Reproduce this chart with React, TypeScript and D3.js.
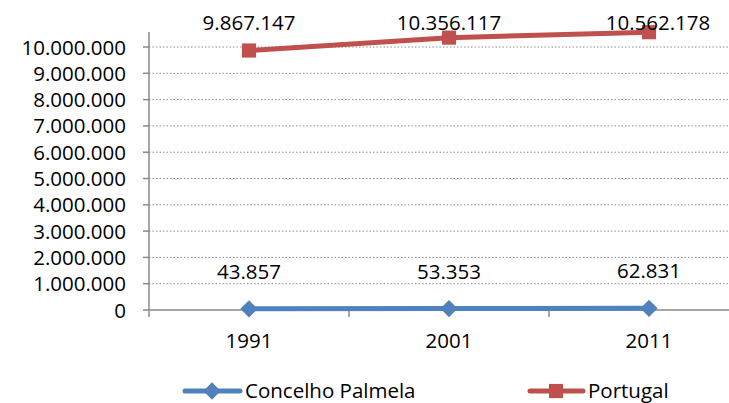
import React from "react";
import * as d3 from "d3";

const years = ["1991", "2001", "2011"];
const palmela = [43857, 53353, 62831];
const portugal = [9867147, 10356117, 10562178];
const yTicks = [0, 1000000, 2000000, 3000000, 4000000, 5000000, 6000000, 7000000, 8000000, 9000000, 10000000];
const seriesNames = ["Concelho Palmela", "Portugal"];

const W = 729;
const H = 403;
const FONT = "'Open Sans', sans-serif";
const FS = 20.5;
const BLUE = "#4F81BD";
const RED = "#C0504D";
const GRID = "#8a8a8a";

const fmt = (v: number) => d3.format(",")(v).replace(/,/g, ".");

export default function App() {
  const left = 149;
  const bandW = 200;
  const x = d3.scaleBand<string>().domain(years).range([left, left + bandW * years.length]);
  const y = d3.scaleLinear().domain([0, 10000000]).range([310, 47]);
  const cx = (yr: string) => (x(yr) as number) + x.bandwidth() / 2;
  const line = d3.line<number>().x((_, i) => cx(years[i])).y((d) => y(d));
  const axisTop = y(10570000);
  const diamond = d3.symbol().type(d3.symbolDiamond2).size(190)();
  const square = d3.symbol().type(d3.symbolSquare).size(200)();
  const redLabelShift = [0, 0, 9];

  return (
    <svg width={W} height={H} style={{ position: "absolute", left: 0, top: 0, display: "block", background: "#fff" }} fontFamily={FONT}>
      {yTicks.filter((t) => t > 0).map((t) => (
        <line key={t} x1={left} x2={W} y1={y(t)} y2={y(t)} stroke={GRID} strokeWidth={1} strokeDasharray="1.5,2" />
      ))}
      <line x1={left} x2={left} y1={axisTop} y2={y(0)} stroke={GRID} strokeWidth={1.5} />
      {yTicks.map((t) => (
        <g key={"yt" + t}>
          <line x1={left - 6} x2={left} y1={y(t)} y2={y(t)} stroke={GRID} strokeWidth={1.5} />
          <text x={left - 23} y={y(t) + 7.5} textAnchor="end" fontSize={FS} fill="#000">{fmt(t)}</text>
        </g>
      ))}
      <line x1={left} x2={W} y1={y(0)} y2={y(0)} stroke={GRID} strokeWidth={1.5} />
      {years.map((yr) => (
        <line key={"xt" + yr} x1={x(yr) as number} x2={x(yr) as number} y1={y(0)} y2={y(0) + 7} stroke={GRID} strokeWidth={1.5} />
      ))}
      {years.map((yr) => (
        <text key={"xl" + yr} x={cx(yr)} y={348} textAnchor="middle" fontSize={FS} fill="#000">{yr}</text>
      ))}
      <path d={line(portugal) as string} fill="none" stroke={RED} strokeWidth={5} />
      {portugal.map((v, i) => (
        <path key={"ps" + i} d={square as string} transform={`translate(${cx(years[i])},${y(v)})`} fill={RED} />
      ))}
      {portugal.map((v, i) => (
        <text key={"pl" + i} x={cx(years[i]) + redLabelShift[i]} y={30} textAnchor="middle" fontSize={FS} fill="#000">{fmt(v)}</text>
      ))}
      <path d={line(palmela) as string} fill="none" stroke={BLUE} strokeWidth={5} />
      {palmela.map((v, i) => (
        <path key={"bs" + i} d={diamond as string} transform={`translate(${cx(years[i])},${y(v)})`} fill={BLUE} />
      ))}
      {palmela.map((v, i) => (
        <text key={"bl" + i} x={cx(years[i])} y={y(v) - 30} textAnchor="middle" fontSize={FS} fill="#000">{fmt(v)}</text>
      ))}
      <g>
        <line x1={185} x2={240} y1={391} y2={391} stroke={BLUE} strokeWidth={5} strokeLinecap="round" />
        <path d={diamond as string} transform="translate(212,391)" fill={BLUE} />
        <text x={245} y={397.5} fontSize={FS} fill="#000">{seriesNames[0]}</text>
        <line x1={530} x2={583} y1={391} y2={391} stroke={RED} strokeWidth={5} strokeLinecap="round" />
        <path d={square as string} transform="translate(556,391)" fill={RED} />
        <text x={588} y={397.5} fontSize={FS} fill="#000">{seriesNames[1]}</text>
      </g>
    </svg>
  );
}
